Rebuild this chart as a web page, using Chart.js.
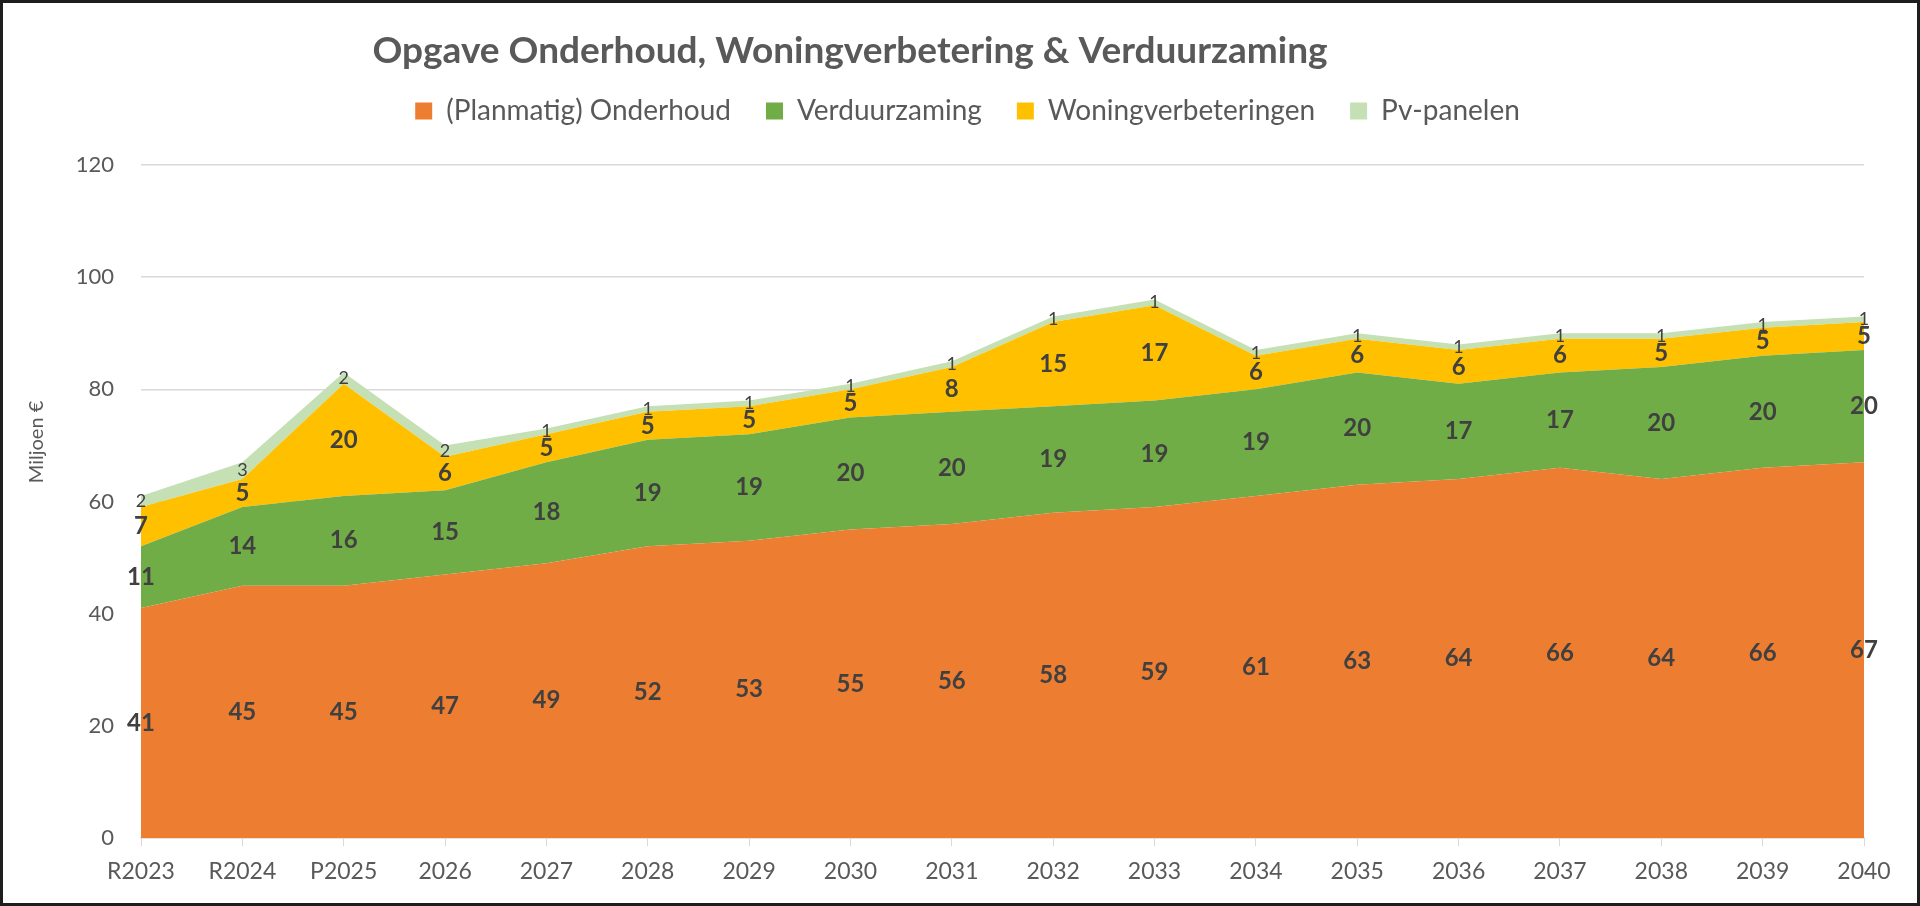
<!DOCTYPE html>
<html lang="nl">
<head>
<meta charset="utf-8">
<title>Opgave Onderhoud, Woningverbetering & Verduurzaming</title>
<script src="https://cdn.jsdelivr.net/npm/chart.js@4.4.1/dist/chart.umd.min.js"></script>
<style>
    html, body { margin: 0; padding: 0; background: #ffffff; }
    .frame {
        position: absolute; left: 0; top: 0;
        width: 1920px; height: 906px;
        box-sizing: border-box;
        border: 3px solid #1e1e1e;
        background: #ffffff;
    }
    .frame canvas { display: block; }
</style>
</head>
<body>
<div class="frame"><canvas id="opgaveChart"></canvas></div>
<script>
// ----------------------------------------------------------------------
// Data (miljoen euro)
// ----------------------------------------------------------------------
const jaren = ['R2023', 'R2024', 'P2025', '2026', '2027', '2028', '2029', '2030', '2031',
               '2032', '2033', '2034', '2035', '2036', '2037', '2038', '2039', '2040'];

const onderhoud          = [41, 45, 45, 47, 49, 52, 53, 55, 56, 58, 59, 61, 63, 64, 66, 64, 66, 67];
const verduurzaming      = [11, 14, 16, 15, 18, 19, 19, 20, 20, 19, 19, 19, 20, 17, 17, 20, 20, 20];
const woningverbetering  = [ 7,  5, 20,  6,  5,  5,  5,  5,  8, 15, 17,  6,  6,  6,  6,  5,  5,  5];
const pvPanelen          = [ 2,  3,  2,  2,  1,  1,  1,  1,  1,  1,  1,  1,  1,  1,  1,  1,  1,  1];

const yTicks = [0, 20, 40, 60, 80, 100, 120];

const FONT = 'Lato, "Open Sans", sans-serif';
const GRIJS = '#595959';
const LABEL_KLEUR = '#404040';

// ----------------------------------------------------------------------
// Plugin: titel, as-titel en datalabels (midden van elk vlak)
// ----------------------------------------------------------------------
const tekstPlugin = {
    id: 'tekstPlugin',
    afterDatasetsDraw(chart) {
        const ctx = chart.ctx;
        const yScale = chart.scales.y;
        const alle = chart.data.datasets;

        ctx.save();
        ctx.textAlign = 'center';
        ctx.textBaseline = 'middle';
        ctx.fillStyle = LABEL_KLEUR;

        alle.forEach((ds, i) => {
            const meta = chart.getDatasetMeta(i);
            ctx.font = ds.labelFont;
            ds.data.forEach((v, j) => {
                let basis = 0;
                for (let k = 0; k < i; k++) basis += alle[k].data[j];
                const x = meta.data[j].x;
                const y = yScale.getPixelForValue(basis + v / 2);
                ctx.fillText(String(v), x, y);
            });
        });
        ctx.restore();
    },
    afterDraw(chart) {
        const ctx = chart.ctx;
        ctx.save();
        // titel
        ctx.fillStyle = GRIJS;
        ctx.font = 'bold 37px ' + FONT;
        ctx.textAlign = 'center';
        ctx.textBaseline = 'middle';
        ctx.fillText('Opgave Onderhoud, Woningverbetering & Verduurzaming', 847, 48);

        // y-as titel
        ctx.translate(34, 439);
        ctx.rotate(-Math.PI / 2);
        ctx.font = '20px ' + FONT;
        ctx.fillText('Miljoen €', 0, 0);
        ctx.restore();
    }
};

document.addEventListener('DOMContentLoaded', () => {
    const canvas = document.getElementById('opgaveChart');
    canvas.width = 1914;
    canvas.height = 900;

    new Chart(canvas, {
        type: 'line',
        data: {
            labels: jaren,
            datasets: [{
                label: '(Planmatig) Onderhoud',
                data: onderhoud,
                backgroundColor: '#ED7D31',
                fill: 'origin',
                labelFont: 'bold 24px ' + FONT
            }, {
                label: 'Verduurzaming',
                data: verduurzaming,
                backgroundColor: '#70AD47',
                fill: '-1',
                labelFont: 'bold 24px ' + FONT
            }, {
                label: 'Woningverbeteringen',
                data: woningverbetering,
                backgroundColor: '#FFC000',
                fill: '-1',
                labelFont: 'bold 24px ' + FONT
            }, {
                label: 'Pv-panelen',
                data: pvPanelen,
                backgroundColor: '#C5E0B4',
                fill: '-1',
                labelFont: '18px ' + FONT
            }]
        },
        options: {
            responsive: false,
            maintainAspectRatio: false,
            animation: false,
            devicePixelRatio: 1,
            layout: {
                padding: { top: 59, left: 68, right: 53, bottom: 0 }
            },
            elements: {
                line: { tension: 0, borderWidth: 0, borderColor: 'rgba(0,0,0,0)' },
                point: { radius: 0, hoverRadius: 0 }
            },
            plugins: {
                legend: {
                    position: 'top',
                    labels: {
                        boxWidth: 17,
                        boxHeight: 17,
                        padding: 35,
                        color: GRIJS,
                        font: { family: FONT, size: 28 }
                    }
                },
                // lege ondertitel als ruimte tussen legenda en plot
                subtitle: {
                    display: true,
                    text: '',
                    weight: 100,
                    font: { size: 10 },
                    padding: { top: 0, bottom: 18 }
                },
                tooltip: { enabled: false }
            },
            scales: {
                x: {
                    offset: false,
                    grid: {
                        drawOnChartArea: false,
                        drawTicks: true,
                        tickLength: 8,
                        color: '#D9D9D9'
                    },
                    border: { color: '#D9D9D9', width: 1.5 },
                    ticks: {
                        color: GRIJS,
                        padding: 12,
                        maxRotation: 0,
                        autoSkip: false,
                        font: { family: FONT, size: 23 }
                    },
                    afterFit(scale) { scale.height = 65; }
                },
                y: {
                    stacked: true,
                    min: yTicks[0],
                    max: yTicks[yTicks.length - 1],
                    grid: { color: '#D9D9D9', lineWidth: 1.5, drawTicks: false },
                    border: { display: false },
                    ticks: {
                        stepSize: yTicks[1] - yTicks[0],
                        color: GRIJS,
                        padding: 27,
                        font: { family: FONT, size: 22 }
                    },
                    afterFit(scale) { scale.width = 70; }
                }
            }
        },
        plugins: [tekstPlugin]
    });
});
</script>
</body>
</html>
